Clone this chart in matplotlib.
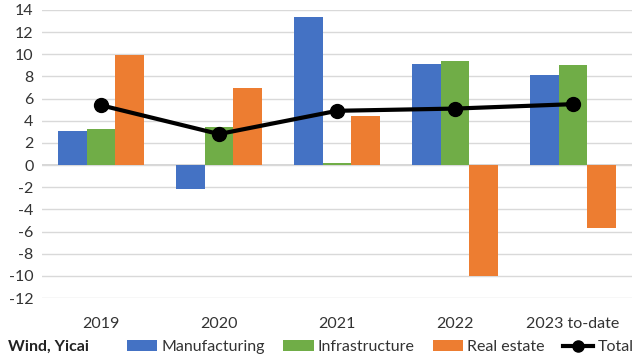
import matplotlib
matplotlib.use("Agg")
import matplotlib.pyplot as plt
import numpy as np

categories = ["2019", "2020", "2021", "2022", "2023 to-date"]
manufacturing = [3.1, -2.2, 13.4, 9.1, 8.1]
infrastructure = [3.3, 3.4, 0.2, 9.4, 9.0]
real_estate = [9.9, 7.0, 4.4, -10.0, -5.7]
total = [5.4, 2.8, 4.9, 5.1, 5.5]
yticks = list(range(-12, 15, 2))

plt.rcParams['font.family'] = ['Lato', 'DejaVu Sans']

fig = plt.figure(figsize=(6.4, 3.58), dpi=100)
ax = fig.add_axes([42/640, 1-298/358, 590/640, 288/358])

x = np.arange(len(categories))
w = 0.245
blue, green, orange = "#4472C4", "#70AD47", "#ED7D31"
b1 = ax.bar(x - w, manufacturing, w, color=blue, label="Manufacturing", zorder=2)
b2 = ax.bar(x, infrastructure, w, color=green, label="Infrastructure", zorder=2)
b3 = ax.bar(x + w, real_estate, w, color=orange, label="Real estate", zorder=2)
l, = ax.plot(x, total, color="black", lw=3, marker="o", ms=10, label="Total", zorder=3)

ax.set_xlim(-0.5, 4.5)
ax.set_ylim(-12, 14)
ax.set_yticks(yticks)
ax.set_yticklabels([str(v) for v in yticks], fontsize=11.5, color="#333333")
ax.grid(axis="y", color="#D9D9D9", lw=1, zorder=0)
ax.axhline(0, color="#D0D0D0", lw=1.2, zorder=1)
for s in ax.spines.values():
    s.set_visible(False)
ax.tick_params(axis="both", length=0)
ax.tick_params(axis="y", pad=6)
ax.set_xticks(x)
ax.set_xticklabels(categories, fontsize=11.5, color="#333333")
ax.tick_params(axis="x", pad=14)

leg_line, = ax.plot([], [], color="black", lw=3, marker="o", ms=8)
fig.legend(handles=[b1, b2, b3, leg_line], labels=["Manufacturing", "Infrastructure", "Real estate", "Total"],
           loc="center left", bbox_to_anchor=(127/640, 1-347/358),
           ncol=4, frameon=False, fontsize=11.5, handlelength=1.9, handletextpad=0.25,
           columnspacing=1.15, labelcolor="#333333", borderpad=0, borderaxespad=0)
fig.text(8/640, 1-347/358, "Wind, Yicai", fontsize=11.5, fontweight="bold",
         va="center", ha="left", color="#222222")

fig.savefig("out.png", dpi=100)
